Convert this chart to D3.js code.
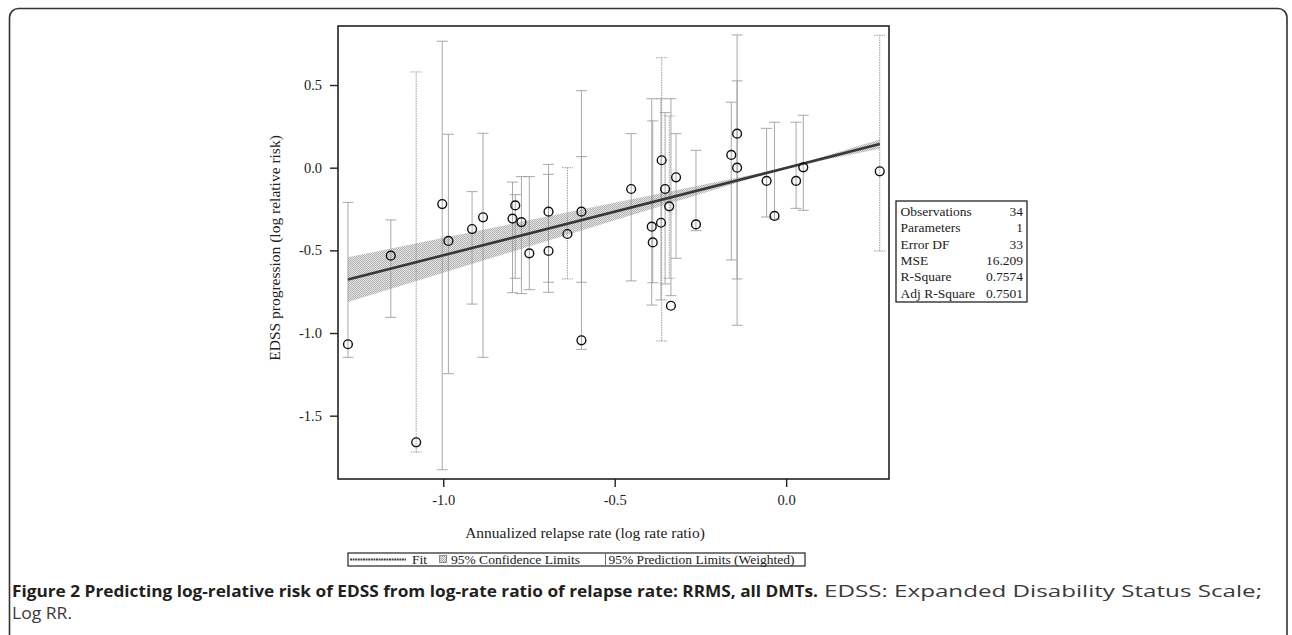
<!DOCTYPE html>
<html>
<head>
<meta charset="utf-8">
<script src="https://cdn.jsdelivr.net/npm/d3@7"></script>
<style>
  html, body { margin: 0; padding: 0; background: #fff; }
  svg { display: block; }
</style>
</head>
<body>
<svg id="chart" width="1292" height="635"></svg>
<script>
// ---------------- DATA ----------------
// log rate ratio of relapse rate (x) and log relative risk of EDSS progression (y)
const xVals = [-1.278, -1.153, -1.079, -1.003, -0.985, -0.916, -0.884, -0.798, -0.790, -0.772,
               -0.749, -0.693, -0.693, -0.638, -0.597, -0.597, -0.452, -0.392, -0.389, -0.365,
               -0.363, -0.353, -0.341, -0.336, -0.321, -0.263, -0.160, -0.143, -0.143, -0.057,
               -0.034, 0.029, 0.050, 0.273];
const yVals = [-1.068, -0.532, -1.661, -0.220, -0.443, -0.371, -0.300, -0.308, -0.228, -0.329,
               -0.518, -0.266, -0.504, -0.401, -0.266, -1.044, -0.129, -0.357, -0.452, -0.333,
               0.045, -0.129, -0.234, -0.835, -0.058, -0.343, 0.077, 0.206, 0.000, -0.080,
               -0.292, -0.080, 0.002, -0.022];
// 95% prediction limits (weighted)
const predLow  = [-1.147, -0.905, -1.720, -1.827, -1.246, -0.825, -1.147, -0.756, -0.669, -0.762,
                  -0.738, -0.754, -0.693, -0.673, -1.099, -0.693, -0.685, -0.831, -0.696, -0.800,
                  -1.048, -0.703, -0.669, -0.774, -0.548, -0.381, -0.558, -0.953, -0.673, -0.298,
                  -0.311, -0.246, -0.258, -0.504];
const predHigh = [-0.210, -0.316, 0.579, 0.765, 0.202, -0.145, 0.208, -0.087, -0.163, -0.054,
                  -0.054, 0.020, -0.040, 0.000, 0.466, 0.067, 0.206, 0.417, 0.283, 0.417,
                  0.665, 0.333, 0.313, 0.417, 0.206, 0.105, 0.396, 0.803, 0.525, 0.238,
                  0.275, 0.275, 0.317, 0.801];
// fitted line and 95% confidence limits
const fitX = [-1.278, 0.273];
const fitY = [-0.677, 0.143];
const bandX    = [-1.278, 0.000, 0.273];
const bandLow  = [-0.812, 0.000, 0.115];
const bandHigh = [-0.542, 0.000, 0.171];
// axis ticks
const yTicks = [0.5, 0.0, -0.5, -1.0, -1.5];
const xTicks = [-1.0, -0.5, 0.0];
// fit statistics table
const statLabels = ["Observations", "Parameters", "Error DF", "MSE", "R-Square", "Adj R-Square"];
const statValues = ["34", "1", "33", "16.209", "0.7574", "0.7501"];
// texts
const xTitle = "Annualized relapse rate (log rate ratio)";
const yTitle = "EDSS progression (log relative risk)";
const legendFit = "Fit";
const legendCL = "95% Confidence Limits";
const legendPL = "95% Prediction Limits (Weighted)";
const captionBold = "Figure 2 Predicting log-relative risk of EDSS from log-rate ratio of relapse rate: RRMS, all DMTs.";
const captionRest = "EDSS: Expanded Disability Status Scale;";
const captionLine2 = "Log RR.";

// ---------------- DRAWING ----------------
const svg = d3.select("#chart");
const serif = "'Liberation Serif', 'Times New Roman', serif";
const plot = { left: 338, right: 889, top: 26, bottom: 479 };

const x = d3.scaleLinear().domain([-1.307, 0.300]).range([plot.left, plot.right]);
const y = d3.scaleLinear().domain([-1.883, 0.857]).range([plot.bottom, plot.top]);

// outer rounded figure border
svg.append("rect")
  .attr("x", 9.5).attr("y", 8.5).attr("width", 1277.5).attr("height", 700)
  .attr("rx", 9).attr("fill", "none").attr("stroke", "#333").attr("stroke-width", 1.6);

// hatch pattern for confidence band
const defs = svg.append("defs");
const pat = defs.append("pattern").attr("id", "hatch")
  .attr("width", 2).attr("height", 2).attr("patternUnits", "userSpaceOnUse");
pat.append("rect").attr("width", 2).attr("height", 2).attr("fill", "#e2e2e2");
pat.append("rect").attr("width", 1).attr("height", 1).attr("fill", "#b4b4b4");
pat.append("rect").attr("x", 1).attr("y", 1).attr("width", 1).attr("height", 1).attr("fill", "#b4b4b4");

// confidence band
const bandData = bandX.map((d, i) => ({ x: d, lo: bandLow[i], hi: bandHigh[i] }));
svg.append("path")
  .datum(bandData)
  .attr("d", d3.area().x(d => x(d.x)).y0(d => y(d.lo)).y1(d => y(d.hi)))
  .attr("fill", "url(#hatch)");

// prediction-limit bars
const pts = xVals.map((d, i) => ({ x: d, y: yVals[i], lo: predLow[i], hi: predHigh[i], i }));
const dotted = new Set([2, 13, 20, 22, 33]);
const bars = svg.append("g").attr("fill", "none");
pts.forEach(p => {
  const g = bars.append("g")
    .attr("stroke", dotted.has(p.i) ? "#8a8a8a" : "#9a9a9a")
    .attr("stroke-width", 1)
    .attr("stroke-opacity", 0.85)
    .attr("stroke-dasharray", dotted.has(p.i) ? "1.5,1" : null);
  g.append("line").attr("x1", x(p.x)).attr("x2", x(p.x)).attr("y1", y(p.lo)).attr("y2", y(p.hi));
  g.append("line").attr("x1", x(p.x) - 5.5).attr("x2", x(p.x) + 5.5).attr("y1", y(p.lo)).attr("y2", y(p.lo));
  g.append("line").attr("x1", x(p.x) - 5.5).attr("x2", x(p.x) + 5.5).attr("y1", y(p.hi)).attr("y2", y(p.hi));
});

// fit line
svg.append("path")
  .datum(fitX.map((d, i) => [d, fitY[i]]))
  .attr("d", d3.line().x(d => x(d[0])).y(d => y(d[1])))
  .attr("stroke", "#383838").attr("stroke-width", 2.6).attr("fill", "none");

// points
svg.append("g").selectAll("circle").data(pts).join("circle")
  .attr("cx", d => x(d.x)).attr("cy", d => y(d.y)).attr("r", 4.4)
  .attr("fill", "none").attr("stroke", "#111").attr("stroke-width", 1.4);

// frame
svg.append("rect")
  .attr("x", plot.left).attr("y", plot.top)
  .attr("width", plot.right - plot.left).attr("height", plot.bottom - plot.top)
  .attr("fill", "none").attr("stroke", "#222").attr("stroke-width", 1.6);

const fmt = d => d3.format(".1f")(d).replace("\u2212", "-");

// y axis
const yAxis = svg.append("g").attr("transform", `translate(${plot.left},0)`)
  .call(d3.axisLeft(y).tickValues(yTicks).tickSize(8).tickPadding(8).tickFormat(fmt));
yAxis.select(".domain").remove();
yAxis.selectAll("line").attr("stroke", "#222").attr("stroke-width", 1.4);
yAxis.selectAll("text").attr("font-family", serif).attr("font-size", 14.5).attr("fill", "#222");

// x axis
const xAxis = svg.append("g").attr("transform", `translate(0,${plot.bottom})`)
  .call(d3.axisBottom(x).tickValues(xTicks).tickSize(8).tickPadding(8).tickFormat(fmt));
xAxis.select(".domain").remove();
xAxis.selectAll("line").attr("stroke", "#222").attr("stroke-width", 1.4);
xAxis.selectAll("text").attr("font-family", serif).attr("font-size", 14.5).attr("fill", "#222");

// axis titles
svg.append("text").attr("x", 585).attr("y", 538).attr("text-anchor", "middle")
  .attr("font-family", serif).attr("font-size", 15.5).attr("fill", "#222").text(xTitle);
svg.append("text").attr("transform", "translate(280,248) rotate(-90)").attr("text-anchor", "middle")
  .attr("font-family", serif).attr("font-size", 15.5).attr("fill", "#222").text(yTitle);

// legend
const lg = svg.append("g");
lg.append("rect").attr("x", 348).attr("y", 553).attr("width", 457).attr("height", 13)
  .attr("fill", "#fff").attr("stroke", "#222").attr("stroke-width", 1.2);
lg.append("line").attr("x1", 350).attr("x2", 406).attr("y1", 559.5).attr("y2", 559.5)
  .attr("stroke", "#444").attr("stroke-width", 2).attr("stroke-dasharray", "2,0.6");
lg.append("text").attr("x", 412).attr("y", 564).attr("font-family", serif).attr("font-size", 13.5)
  .attr("fill", "#222").text(legendFit);
lg.append("rect").attr("x", 439.5).attr("y", 555.5).attr("width", 7).attr("height", 7)
  .attr("fill", "url(#hatch)").attr("stroke", "#777").attr("stroke-width", 0.8);
lg.append("text").attr("x", 451).attr("y", 564).attr("font-family", serif).attr("font-size", 13.5)
  .attr("fill", "#222").text(legendCL);
lg.append("line").attr("x1", 605.5).attr("x2", 605.5).attr("y1", 554).attr("y2", 565)
  .attr("stroke", "#666").attr("stroke-width", 1);
lg.append("text").attr("x", 608.5).attr("y", 564).attr("font-family", serif).attr("font-size", 13.5)
  .attr("fill", "#222").text(legendPL);

// statistics table
const st = svg.append("g");
st.append("rect").attr("x", 896).attr("y", 201).attr("width", 131).attr("height", 101)
  .attr("fill", "#fff").attr("stroke", "#222").attr("stroke-width", 1.3);
statLabels.forEach((lab, i) => {
  const by = 216 + i * 16.3;
  st.append("text").attr("x", 900.5).attr("y", by).attr("font-family", serif).attr("font-size", 13.5)
    .attr("fill", "#222").text(lab);
  st.append("text").attr("x", 1023).attr("y", by).attr("text-anchor", "end").attr("font-family", serif)
    .attr("font-size", 13.5).attr("fill", "#222").text(statValues[i]);
});

// caption
const sans = "'Open Sans', 'Noto Sans', sans-serif";
svg.append("text").attr("x", 12).attr("y", 597).attr("font-family", sans).attr("font-size", 16)
  .attr("font-weight", 700).attr("fill", "#231f20")
  .attr("textLength", 806).attr("lengthAdjust", "spacingAndGlyphs").text(captionBold);
svg.append("text").attr("x", 824).attr("y", 597).attr("font-family", sans).attr("font-size", 17)
  .attr("fill", "#3a3a3a")
  .attr("textLength", 438).attr("lengthAdjust", "spacingAndGlyphs").text(captionRest);
svg.append("text").attr("x", 12).attr("y", 619).attr("font-family", sans).attr("font-size", 16)
  .attr("fill", "#3a3a3a")
  .attr("textLength", 60).attr("lengthAdjust", "spacingAndGlyphs").text(captionLine2);
</script>
</body>
</html>
